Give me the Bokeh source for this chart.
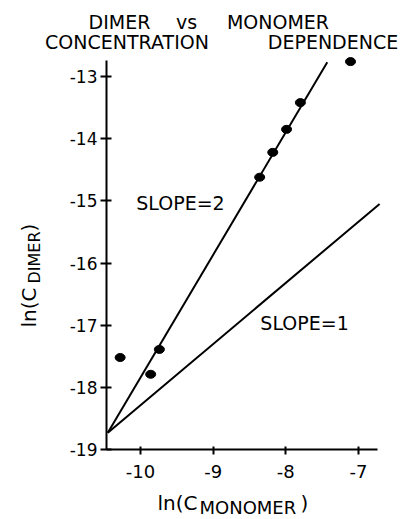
from bokeh.plotting import figure
from bokeh.models import Label, FixedTicker, Range1d, ColumnDataSource
from bokeh.embed import file_html
from bokeh.resources import INLINE

# ---- data ----
mono = [-10.28, -9.86, -9.74, -8.36, -8.18, -7.99, -7.80, -7.11]
dimer = [-17.52, -17.79, -17.39, -14.62, -14.22, -13.85, -13.42, -12.76]

slope2_x = [-10.45, -7.43]
slope2_y = [-18.73, -12.77]
slope1_x = [-10.45, -6.71]
slope1_y = [-18.73, -15.05]

x_ticks = [-10, -9, -8, -7]
x_tick_labels = ["-10", "-9", "-8", "-7"]
y_ticks = [-19, -18, -17, -16, -15, -14, -13]
y_tick_labels = ["-19", "-18", "-17", "-16", "-15", "-14", "-13"]

X_AXIS_BOUNDS = (-10.468, -6.739)
Y_AXIS_BOUNDS = (-19, -12.743)

FONT = "DejaVu Sans"

p = figure(width=409, height=519,
           x_range=Range1d(-11.9265, -6.2984), y_range=Range1d(-20.1257, -11.7775),
           min_border=0, output_backend="svg", toolbar_location=None)
p.title.visible = False
p.outline_line_color = None
p.grid.visible = False
p.background_fill_color = "white"
p.border_fill_color = "white"

for ax in (p.xaxis[0], p.yaxis[0]):
    ax.axis_line_width = 2
    ax.axis_line_color = "black"
    ax.major_tick_line_width = 2
    ax.major_tick_line_color = "black"
    ax.minor_tick_line_color = None
    ax.major_label_text_font = FONT
    ax.major_label_text_color = "black"

p.xaxis.fixed_location = Y_AXIS_BOUNDS[0]
p.xaxis.bounds = X_AXIS_BOUNDS
p.xaxis.ticker = FixedTicker(ticks=x_ticks)
p.xaxis.major_label_overrides = dict(zip(x_ticks, x_tick_labels))
p.xaxis.major_tick_in = 3
p.xaxis.major_tick_out = 5
p.xaxis.major_label_standoff = 10
p.xaxis.major_label_text_font_size = "18px"

p.yaxis.fixed_location = X_AXIS_BOUNDS[0]
p.yaxis.bounds = Y_AXIS_BOUNDS
p.yaxis.ticker = FixedTicker(ticks=y_ticks)
p.yaxis.major_label_overrides = dict(zip(y_ticks, y_tick_labels))
p.yaxis.major_tick_in = 5
p.yaxis.major_tick_out = 6
p.yaxis.major_label_standoff = 3
p.yaxis.major_label_text_font_size = "17px"

p.line(slope2_x, slope2_y, line_color="black", line_width=2)
p.line(slope1_x, slope1_y, line_color="black", line_width=2)

src = ColumnDataSource(dict(x=mono, y=dimer))
p.ellipse(x="x", y="y", width=10, height=8, width_units="screen", height_units="screen",
          fill_color="black", line_color="black", source=src)

def lab(x, y, text, size, align="center", baseline="middle", angle=0):
    p.add_layout(Label(x=x, y=y, text=text, text_font=FONT, text_font_size=size,
                       text_align=align, text_baseline=baseline, text_color="black",
                       angle=angle, angle_units="deg"))

# title words
lab(-10.289, -12.131, "DIMER", "19px")
lab(-9.367, -12.131, "vs", "19px")
lab(-8.108, -12.131, "MONOMER", "19px")
lab(-10.186, -12.437, "CONCENTRATION", "19px")
lab(-7.351, -12.437, "DEPENDENCE", "19px")

# slope annotations
lab(-9.450, -15.027, "SLOPE=2", "19px")
lab(-7.743, -16.973, "SLOPE=1", "19px")

# x axis label with subscript
lab(-9.766, -19.868, "ln(C", "20px", align="left", baseline="alphabetic")
lab(-9.188, -19.933, "MONOMER", "18px", align="left", baseline="alphabetic")
lab(-7.800, -19.868, ")", "20px", align="left", baseline="alphabetic")

# y axis label with subscript (rotated)
lab(-11.528, -17.037, "ln(C", "20px", align="left", baseline="alphabetic", angle=90)
lab(-11.459, -16.330, "DIMER", "16px", align="left", baseline="alphabetic", angle=90)
lab(-11.528, -15.493, ")", "20px", align="left", baseline="alphabetic", angle=90)

open("out.html", "w").write(file_html(p, INLINE))
